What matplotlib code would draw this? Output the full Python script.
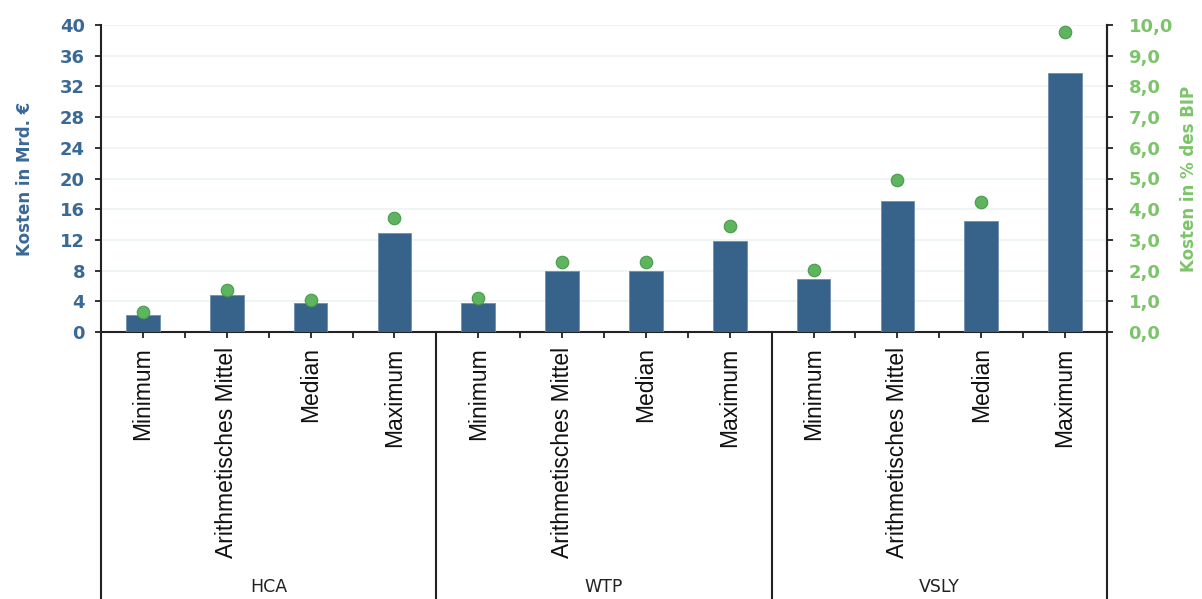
import matplotlib
matplotlib.use("Agg")
import matplotlib.pyplot as plt
import numpy as np

groups = ["HCA", "WTP", "VSLY"]
measures = ["Minimum", "Arithmetisches Mittel", "Median", "Maximum"]
kosten_mrd = [2.2, 4.8, 3.8, 12.9,
              3.8, 7.9, 7.9, 11.9,
              6.9, 17.1, 14.5, 33.8]
kosten_bip = [0.65, 1.37, 1.03, 3.71,
              1.11, 2.27, 2.27, 3.44,
              2.03, 4.95, 4.23, 9.77]
left_ticks = [0, 4, 8, 12, 16, 20, 24, 28, 32, 36, 40]
right_ticks = [0, 1, 2, 3, 4, 5, 6, 7, 8, 9, 10]

BLUE_TXT = "#3b6996"
BAR = "#37628a"
GREEN_TXT = "#7cc46a"
DOT = "#5fb55f"
DOT_EDGE = "#4b9a4b"
AX = "#222222"

W, H = 1202, 599
fig = plt.figure(figsize=(W / 100, H / 100), dpi=100)
x0, x1, yb, yt = 101, 1107, 332, 25
ax = fig.add_axes([x0 / W, (H - yb) / H, (x1 - x0) / W, (yb - yt) / H])

n = len(kosten_mrd)
x = np.arange(n)
categories = measures * len(groups)

ax.bar(x, kosten_mrd, width=0.4, color=BAR, edgecolor="#6f8fae", linewidth=0.6, zorder=3)
ax.set_xlim(-0.5, n - 0.5)
ax.set_ylim(0, 40)
ax.set_yticks(left_ticks)
ax.set_yticklabels([str(t) for t in left_ticks])
ax.grid(axis="y", color="#ecf2f2", linewidth=1.2, zorder=0)
ax.set_axisbelow(True)

ax.set_xticks(x)
ax.set_xticklabels(categories, rotation=90, fontsize=16.5, family="Liberation Sans", color="#111111")
ax.set_xticks(np.arange(-0.5, n, 1.0)[1:-1], minor=True)
ax.tick_params(axis="x", which="both", direction="out", length=4, width=1.3, color=AX, pad=7)
ax.tick_params(axis="y", direction="out", length=4.5, width=1.3, color=AX, labelcolor=BLUE_TXT,
               labelsize=13, pad=7)
for lab in ax.get_yticklabels():
    lab.set_fontweight("bold")

for s in ["top"]:
    ax.spines[s].set_visible(False)
for s in ["left", "bottom", "right"]:
    ax.spines[s].set_color(AX)
    ax.spines[s].set_linewidth(1.5)

ax.set_ylabel("Kosten in Mrd. €", color=BLUE_TXT, fontsize=12, fontweight="bold", labelpad=19)

ax2 = ax.twinx()
ax2.set_ylim(0, 10)
ax2.set_yticks(right_ticks)
ax2.set_yticklabels([f"{t:.1f}".replace(".", ",") for t in right_ticks])
ax2.plot(x, kosten_bip, "o", ms=9, color=DOT, markeredgecolor=DOT_EDGE, markeredgewidth=0.8,
         zorder=5, clip_on=False)
ax2.tick_params(axis="y", direction="out", length=4.5, width=1.3, color=AX, labelcolor=GREEN_TXT,
                labelsize=13, pad=11)
for lab in ax2.get_yticklabels():
    lab.set_fontweight("bold")
for s in ["top", "left", "bottom"]:
    ax2.spines[s].set_visible(False)
ax2.spines["right"].set_color(AX)
ax2.spines["right"].set_linewidth(1.5)
ax2.set_ylabel("Kosten in % des BIP", color=GREEN_TXT, fontsize=12, fontweight="bold", labelpad=5)

# group separators and labels
tr = ax.get_xaxis_transform()
ybot = -(H - yb) / (yb - yt)
per = len(measures)
for k in range(len(groups) + 1):
    xs = k * per - 0.5
    ax.plot([xs, xs], [0, ybot], transform=tr, color=AX, lw=1.5, clip_on=False, zorder=4)
ylab = -(587 - yb) / (yb - yt)
for k, g in enumerate(groups):
    ax.text(k * per + (per - 1) / 2, ylab, g, transform=tr, ha="center", va="center",
            fontsize=12.5, color="#222222")

fig.savefig("out.png", dpi=100)
